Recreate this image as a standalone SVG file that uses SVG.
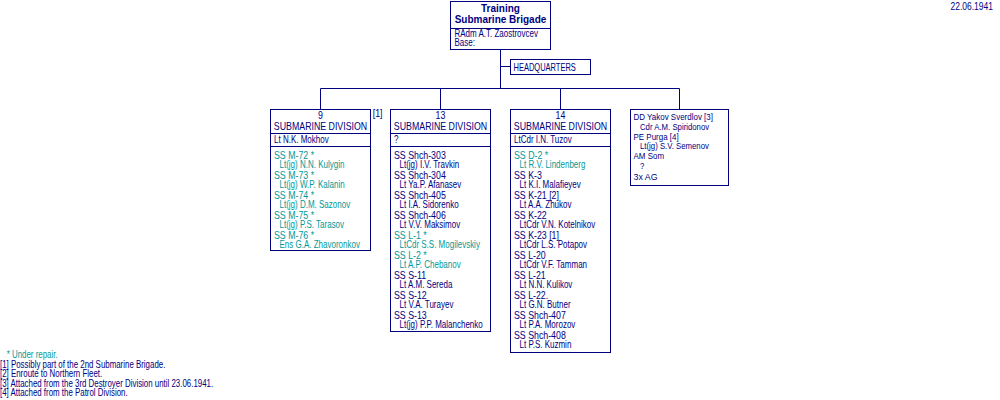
<svg xmlns="http://www.w3.org/2000/svg" width="1000" height="400" viewBox="0 0 1000 400">
<style>
text { font-family: "Liberation Sans", Arial, sans-serif; font-size: 10px; fill: #000080; }
.b { font-weight: bold; }
.c { text-anchor: middle; }
.e { text-anchor: end; }
.s { font-size: 9.5px; }
text.t { fill: #009999; }
.box { fill: #ffffff; stroke: #000080; stroke-width: 1; }
.ln { stroke: #000080; stroke-width: 1; fill: none; }
</style>
<rect width="1000" height="400" fill="#ffffff"/>

<g id="connectors" class="ln">
<path d="M500.5 49.5V88.5M500.5 66.5H510.5M320.5 88.5H679.5M320.5 88.5V109.5M440.5 88.5V109.5M560.5 88.5V109.5M679.5 88.5V109.5"/>
</g>

<g id="brigade">
<rect class="box" x="450.5" y="1.5" width="100" height="48"/>
<path class="ln" d="M450.5 28.5H550.5"/>
<text class="b c" x="500.5" y="12">Training</text>
<text class="b c" x="500.5" y="23">Submarine Brigade</text>
<g transform="translate(454.5,0) scale(0.8,1)">
<text y="37">RAdm  A.T. Zaostrovcev</text>
<text y="46">Base:</text>
</g>
</g>

<g id="headquarters">
<rect class="box" x="510.5" y="59.5" width="80" height="15"/>
<g transform="translate(513.5,0) scale(0.75,1)"><text y="71">HEADQUARTERS</text></g>
</g>

<g id="div9">
<rect class="box" x="270.5" y="109.5" width="100" height="141"/>
<path class="ln" d="M270.5 133.5H370.5M270.5 146.5H370.5"/>
<g transform="translate(320.5,0) scale(0.88,1)">
<text class="c" y="119.5">9</text>
<text class="c" y="130">SUBMARINE DIVISION</text>
</g>
<g transform="translate(274,0) scale(0.8,1)"><text y="143.5">Lt N.K. Mokhov</text></g>
<g transform="translate(274,0) scale(0.88,1)">
<text class="t" y="159">SS M-72 *</text>
<text class="t" y="179">SS M-73 *</text>
<text class="t" y="199">SS M-74 *</text>
<text class="t" y="219">SS M-75 *</text>
<text class="t" y="239">SS M-76 *</text>
</g>
<g transform="translate(279.5,0) scale(0.8,1)">
<text class="t" y="168">Lt(jg) N.N. Kulygin</text>
<text class="t" y="188">Lt(jg) W.P. Kalanin</text>
<text class="t" y="208">Lt(jg) D.M. Sazonov</text>
<text class="t" y="228">Lt(jg) P.S. Tarasov</text>
<text class="t" y="248">Ens G.A. Zhavoronkov</text>
</g>
<g transform="translate(372.7,0) scale(0.88,1)"><text y="117">[1]</text></g>
</g>

<g id="div13">
<rect class="box" x="390.5" y="109.5" width="100" height="222"/>
<path class="ln" d="M390.5 133.5H490.5M390.5 146.5H490.5"/>
<g transform="translate(440.5,0) scale(0.88,1)">
<text class="c" y="119.5">13</text>
<text class="c" y="130">SUBMARINE DIVISION</text>
</g>
<g transform="translate(394,0) scale(0.8,1)"><text y="143.5">?</text></g>
<g transform="translate(394,0) scale(0.88,1)">
<text y="159">SS Shch-303</text>
<text y="179">SS Shch-304</text>
<text y="199">SS Shch-405</text>
<text y="219">SS Shch-406</text>
<text class="t" y="239">SS L-1 *</text>
<text class="t" y="259">SS L-2 *</text>
<text y="279">SS S-11</text>
<text y="299">SS S-12</text>
<text y="319">SS S-13</text>
</g>
<g transform="translate(399.5,0) scale(0.8,1)">
<text y="168">Lt(jg) I.V. Travkin</text>
<text y="188">Lt Ya.P. Afanasev</text>
<text y="208">Lt I.A. Sidorenko</text>
<text y="228">Lt V.V. Maksimov</text>
<text class="t" y="248">LtCdr S.S. Mogilevskiy</text>
<text class="t" y="268">Lt A.P. Chebanov</text>
<text y="288">Lt A.M. Sereda</text>
<text y="308">Lt V.A. Turayev</text>
<text y="328">Lt(jg) P.P. Malanchenko</text>
</g>
</g>

<g id="div14">
<rect class="box" x="510.5" y="109.5" width="100" height="243"/>
<path class="ln" d="M510.5 133.5H610.5M510.5 146.5H610.5"/>
<g transform="translate(560.5,0) scale(0.88,1)">
<text class="c" y="119.5">14</text>
<text class="c" y="130">SUBMARINE DIVISION</text>
</g>
<g transform="translate(514,0) scale(0.8,1)"><text y="143.5">LtCdr I.N. Tuzov</text></g>
<g transform="translate(514,0) scale(0.88,1)">
<text class="t" y="159">SS D-2 *</text>
<text y="179">SS K-3</text>
<text y="199">SS K-21 [2]</text>
<text y="219">SS K-22</text>
<text y="239">SS K-23 [1]</text>
<text y="259">SS L-20</text>
<text y="279">SS L-21</text>
<text y="299">SS L-22.</text>
<text y="319">SS Shch-407</text>
<text y="339">SS Shch-408</text>
</g>
<g transform="translate(519.5,0) scale(0.8,1)">
<text class="t" y="168">Lt R.V. Lindenberg</text>
<text y="188">Lt K.I. Malafieyev</text>
<text y="208">Lt A.A. Zhukov</text>
<text y="228">LtCdr V.N. Kotelnikov</text>
<text y="248">LtCdr L.S. Potapov</text>
<text y="268">LtCdr V.F. Tamman</text>
<text y="288">Lt N.N. Kulikov</text>
<text y="308">Lt G.N. Butner</text>
<text y="328">Lt P.A. Morozov</text>
<text y="348">Lt P.S. Kuzmin</text>
</g>
</g>

<g id="detached">
<rect class="box" x="630.5" y="109.5" width="98" height="76"/>
<g transform="translate(633.5,0) scale(0.84,1)">
<text class="s" y="120.5">DD Yakov Sverdlov [3]</text>
<text class="s" y="140">PE Purga [4]</text>
<text class="s" y="159.5">AM Som</text>
</g>
<g transform="translate(633.5,0) scale(0.93,1)">
<text class="s" y="180">3x AG</text>
</g>
<g transform="translate(640,0) scale(0.82,1)">
<text class="s" y="130">Cdr A.M. Spiridonov</text>
<text class="s" y="149.5">Lt(jg) S.V. Semenov</text>
<text class="s" y="169.5">?</text>
</g>
</g>

<g id="notes" transform="scale(0.79,1)">
<text class="t" x="8.5" y="358">* Under repair.</text>
<text y="368">[1] Possibly part of the 2nd Submarine Brigade.</text>
<text y="377.5">[2] Enroute to Northern Fleet.</text>
<text y="387">[3] Attached from the 3rd Destroyer Division until 23.06.1941.</text>
<text y="396.5">[4] Attached from the Patrol Division.</text>
</g>

<g id="date" transform="translate(993,0) scale(0.85,1)">
<text class="e" y="10.5">22.06.1941</text>
</g>
</svg>
